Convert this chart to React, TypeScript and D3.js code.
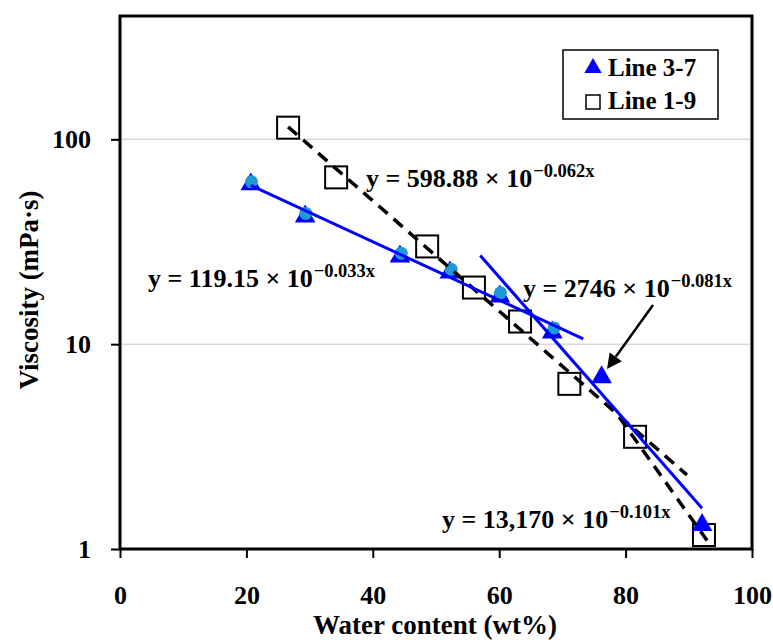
import { useRef, useEffect } from 'react';
import * as d3 from 'd3';

// Line 3-7 (blue triangles)
const line37X = [20.7, 29.3, 44.3, 52.2, 60.1, 68.4, 76.2, 92.1];
const line37Y = [60.3, 42, 26.8, 22.4, 17.1, 11.4, 6.9, 1.31];
// light blue dots sitting on the first six triangles
const dotX = [20.8, 29.4, 44.5, 52.4, 60.2, 68.7];
const dotY = [62, 43.5, 27.8, 23.2, 17.8, 12.0];
// Line 1-9 (open squares)
const line19X = [26.6, 34.2, 48.6, 56, 63.3, 71.1, 81.5, 92.4];
const line19Y = [114, 65.2, 30, 18.9, 12.9, 6.4, 3.53, 1.17];

// trend line end points
const blueFits = [
  [[20.7, 59.6], [73.3, 10.6]],
  [[57, 27.1], [92.1, 1.58]],
];
const dashFits = [
  [[26.6, 115], [89.7, 2.3]],
  [[79, 4.4], [92.9, 1.1]],
];

const xTicks = [0, 20, 40, 60, 80, 100];
const yTicks = [1, 10, 100];

const equations = [
  { main: 'y = 598.88 × 10', sup: '−0.062x' },
  { main: 'y = 119.15 × 10', sup: '−0.033x' },
  { main: 'y = 2746 × 10', sup: '−0.081x' },
  { main: 'y = 13,170 × 10', sup: '−0.101x' },
];

const legendItems = ['Line 3-7', 'Line 1-9'];

const App = () => {
  const svgRef = useRef<SVGSVGElement>(null);

  useEffect(() => {
    const svg = d3.select(svgRef.current);
    svg.selectAll('*').remove();
    const width = 773;
    const height = 640;
    const left = 120, right = 752, top = 16, bottom = 549;
    const font = "'Liberation Serif', 'Times New Roman', serif";
    const blue = '#0000ff';

    const x = d3.scaleLinear().domain([0, 100]).range([left, right]);
    const y = d3.scaleLog().domain([1, 400]).range([bottom, top]);

    svg
      .attr('width', width)
      .attr('height', height)
      .style('font-family', font)
      .style('font-weight', '700');

    // gridlines
    svg.append('g')
      .selectAll('line')
      .data(yTicks.filter(t => t > 1))
      .join('line')
      .attr('x1', left).attr('x2', right)
      .attr('y1', d => y(d)).attr('y2', d => y(d))
      .attr('stroke', '#d9d9d9')
      .attr('stroke-width', 1.5);

    // axes
    const yAxis = svg.append('g')
      .attr('transform', `translate(${left},0)`)
      .call(d3.axisLeft(y).tickValues(yTicks).tickSize(9).tickPadding(20).tickFormat(d3.format('d')));
    const xAxis = svg.append('g')
      .attr('transform', `translate(0,${bottom})`)
      .call(d3.axisBottom(x).tickValues(xTicks).tickSize(9).tickPadding(28));
    [xAxis, yAxis].forEach(a => {
      a.select('.domain').remove();
      a.selectAll('line').attr('stroke', '#000').attr('stroke-width', 2);
      a.selectAll('text')
        .attr('fill', '#000')
        .style('font-family', font)
        .style('font-weight', '700')
        .style('font-size', '26px');
    });

    const line = d3.line().x(d => x(d[0])).y(d => y(d[1]));

    // squares
    svg.append('g')
      .selectAll('rect')
      .data(line19X.map((v, i) => [v, line19Y[i]]))
      .join('rect')
      .attr('x', d => x(d[0]) - 11)
      .attr('y', d => y(d[1]) - 11)
      .attr('width', 22)
      .attr('height', 22)
      .attr('fill', 'none')
      .attr('stroke', '#000')
      .attr('stroke-width', 2);

    // triangles
    const tri = d3.symbol().type(d3.symbolTriangle).size(185);
    svg.append('g')
      .selectAll('path')
      .data(line37X.map((v, i) => [v, line37Y[i]]))
      .join('path')
      .attr('transform', d => `translate(${x(d[0])},${y(d[1])})`)
      .attr('d', tri())
      .attr('fill', blue);

    svg.append('g')
      .selectAll('circle')
      .data(dotX.map((v, i) => [v, dotY[i]]))
      .join('circle')
      .attr('cx', d => x(d[0]))
      .attr('cy', d => y(d[1]))
      .attr('r', 6.5)
      .attr('fill', '#1e9ad9');

    // trend lines
    svg.append('g')
      .selectAll('path')
      .data(dashFits)
      .join('path')
      .attr('d', d => line(d))
      .attr('fill', 'none')
      .attr('stroke', '#000')
      .attr('stroke-width', 3.5)
      .attr('stroke-dasharray', '12,8');
    svg.append('g')
      .selectAll('path')
      .data(blueFits)
      .join('path')
      .attr('d', d => line(d))
      .attr('fill', 'none')
      .attr('stroke', blue)
      .attr('stroke-width', 3);

    // plot frame
    svg.append('rect')
      .attr('x', left).attr('y', top)
      .attr('width', right - left).attr('height', bottom - top)
      .attr('fill', 'none')
      .attr('stroke', '#000')
      .attr('stroke-width', 3);

    // equations
    const eqPos = [[366, 187], [148, 287], [523, 297], [442, 528]];
    svg.append('g')
      .selectAll('text')
      .data(equations)
      .join('text')
      .attr('x', (d, i) => eqPos[i][0])
      .attr('y', (d, i) => eqPos[i][1])
      .style('font-size', '26px')
      .each(function (d) {
        const t = d3.select(this);
        t.append('tspan').text(d.main);
        t.append('tspan').attr('dx', 1).attr('dy', -10).style('font-size', '18.5px').text(d.sup);
      });

    // arrow
    const from = [653, 305];
    const tip = [607, 369];
    const dx = tip[0] - from[0], dy = tip[1] - from[1];
    const len = Math.hypot(dx, dy);
    const ux = dx / len, uy = dy / len;
    const headLen = 15, headW = 7.5;
    const bx = tip[0] - ux * headLen, by = tip[1] - uy * headLen;
    svg.append('line')
      .attr('x1', from[0]).attr('y1', from[1])
      .attr('x2', bx).attr('y2', by)
      .attr('stroke', '#000')
      .attr('stroke-width', 2.5);
    svg.append('path')
      .attr('d', `M${tip[0]},${tip[1]}L${bx - uy * headW},${by + ux * headW}L${bx + uy * headW},${by - ux * headW}Z`)
      .attr('fill', '#000');

    // legend
    const lg = svg.append('g').attr('transform', 'translate(563,50)');
    lg.append('rect')
      .attr('width', 155).attr('height', 69)
      .attr('fill', '#fff')
      .attr('stroke', '#000')
      .attr('stroke-width', 1.5);
    lg.append('path')
      .attr('transform', 'translate(30,18)')
      .attr('d', d3.symbol().type(d3.symbolTriangle).size(130)())
      .attr('fill', blue);
    lg.append('rect')
      .attr('x', 23).attr('y', 45)
      .attr('width', 14).attr('height', 14)
      .attr('fill', 'none')
      .attr('stroke', '#000')
      .attr('stroke-width', 1.5);
    lg.selectAll('text.lab')
      .data(legendItems)
      .join('text')
      .attr('class', 'lab')
      .attr('x', 45)
      .attr('y', (d, i) => 26 + i * 33)
      .style('font-size', '25px')
      .text(d => d);

    // axis titles
    svg.append('text')
      .attr('x', (left + right) / 2 - 1)
      .attr('y', 634)
      .attr('text-anchor', 'middle')
      .style('font-size', '27px')
      .text('Water content (wt%)');
    svg.append('text')
      .attr('transform', 'translate(38,290) rotate(-90)')
      .attr('text-anchor', 'middle')
      .style('font-size', '27px')
      .text('Viscosity (mPa·s)');
  }, []);

  return (
    <svg ref={svgRef} style={{ position: 'absolute', left: 0, top: 0, background: '#fff' }}></svg>
  );
};

export default App;
